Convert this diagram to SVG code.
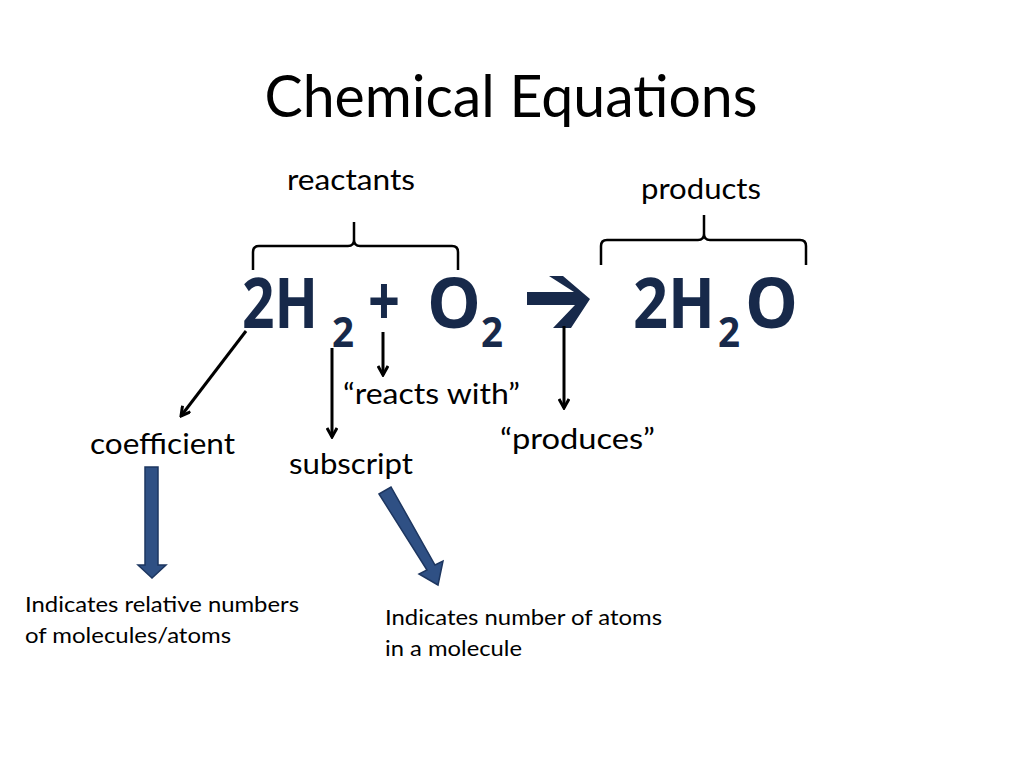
<svg xmlns="http://www.w3.org/2000/svg" width="1024" height="768" viewBox="0 0 1024 768">
<style>
text{font-family:Lato,"Open Sans","Liberation Sans",sans-serif;fill:#000}
.t{font-size:28px}
.eq{font-family:"Open Sans","Liberation Sans",sans-serif;font-weight:bold;fill:#17294a}
.big{font-size:70px}
.sub{font-size:42px}
.ln{stroke:#000;stroke-width:3;fill:none}
.br{stroke:#000;stroke-width:2.5;fill:none}
.blk{fill:#2f5084;stroke:#1d3660;stroke-width:1.5}
.sm{font-size:22px}
</style>
<defs>
<marker id="ah" markerWidth="12" markerHeight="12" refX="10" refY="6" orient="auto" markerUnits="userSpaceOnUse">
<path d="M1,1 L10,6 L1,11" fill="none" stroke="#000" stroke-width="3"/>
</marker>
</defs>
<rect width="1024" height="768" fill="#fff"/>
<g id="title"><text x="511" y="117" text-anchor="middle" font-size="58" textLength="493" lengthAdjust="spacingAndGlyphs">Chemical Equations</text></g>
<g id="reactants">
<text class="t" x="351" y="190" text-anchor="middle" textLength="128" lengthAdjust="spacingAndGlyphs">reactants</text>
<path class="br" d="M253,270 L253,252 Q253,246 259,246 L348,246 Q354,246 354,240 L354,222 L354,240 Q354,246 360,246 L452,246 Q458,246 458,252 L458,270"/>
</g>
<g id="products">
<text class="t" x="701" y="199" text-anchor="middle" textLength="120" lengthAdjust="spacingAndGlyphs">products</text>
<path class="br" d="M601,265 L601,246 Q601,240 607,240 L698,240 Q704,240 704,234 L704,215 L704,234 Q704,240 710,240 L800,240 Q806,240 806,246 L806,265"/>
</g>
<g id="equation">
<text class="eq big" x="242" y="328" textLength="76" lengthAdjust="spacingAndGlyphs">2H</text>
<text class="eq sub" x="332" y="347" textLength="22" lengthAdjust="spacingAndGlyphs">2</text>
<text class="eq big" x="368" y="326" textLength="32" lengthAdjust="spacingAndGlyphs">+</text>
<text class="eq big" x="427" y="328" textLength="54" lengthAdjust="spacingAndGlyphs">O</text>
<text class="eq sub" x="481" y="347" textLength="22" lengthAdjust="spacingAndGlyphs">2</text>
<path d="M527,292 L574,292 L549,276 L563,276 L590,299 L571,328 L553,328 L575,305 L527,305 Z" fill="#17294a"/>
<text class="eq big" x="633" y="328" textLength="82" lengthAdjust="spacingAndGlyphs">2H</text>
<text class="eq sub" x="718" y="347" textLength="22" lengthAdjust="spacingAndGlyphs">2</text>
<text class="eq big" x="745" y="328" textLength="53" lengthAdjust="spacingAndGlyphs">O</text>
</g>
<g id="connectors">
<line class="ln" x1="246" y1="331" x2="181" y2="416" marker-end="url(#ah)"/>
<line class="ln" x1="332" y1="348" x2="332" y2="437" marker-end="url(#ah)"/>
<line class="ln" x1="383" y1="332" x2="383" y2="375" marker-end="url(#ah)"/>
<line class="ln" x1="564" y1="326" x2="564" y2="408" marker-end="url(#ah)"/>
<path class="blk" d="M145,467 L158,467 L158,565 L166,565 L152,578 L138,565 L145,565 Z"/>
<path class="blk" d="M379,494 L391,487 L435,565 L443,561 L438,585 L419,574 L427,570 Z"/>
</g>
<g id="labels">
<text class="t" x="343" y="404" textLength="177" lengthAdjust="spacingAndGlyphs">“reacts with”</text>
<text class="t" x="90" y="454" textLength="145" lengthAdjust="spacingAndGlyphs">coefficient</text>
<text class="t" x="289" y="474" textLength="124" lengthAdjust="spacingAndGlyphs">subscript</text>
<text class="t" x="500" y="449" textLength="155" lengthAdjust="spacingAndGlyphs">“produces”</text>
</g>
<g id="notes">
<text class="sm" x="25" y="612" textLength="274" lengthAdjust="spacingAndGlyphs">Indicates relative numbers</text>
<text class="sm" x="25" y="643" textLength="206" lengthAdjust="spacingAndGlyphs">of molecules/atoms</text>
<text class="sm" x="385" y="625" textLength="277" lengthAdjust="spacingAndGlyphs">Indicates number of atoms</text>
<text class="sm" x="385" y="656" textLength="137" lengthAdjust="spacingAndGlyphs">in a molecule</text>
</g>
</svg>
